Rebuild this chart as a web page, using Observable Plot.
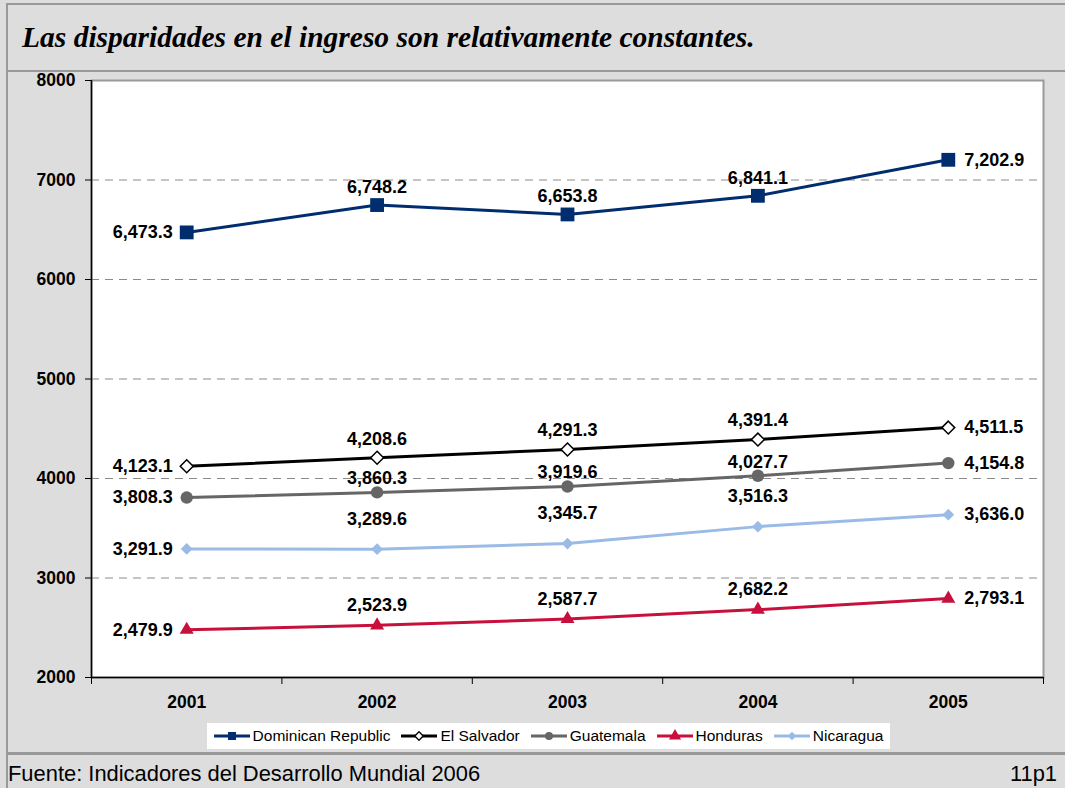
<!DOCTYPE html>
<html>
<head>
<meta charset="utf-8">
<script src="https://cdn.jsdelivr.net/npm/d3@7"></script>
<script src="https://cdn.jsdelivr.net/npm/@observablehq/plot@0.6"></script>
<style>
  html, body { margin: 0; padding: 0; background: #dddddd; }
  #wrap { position: relative; width: 1065px; height: 788px; background: #dddddd; overflow: hidden;
          font-family: "Liberation Sans", Arial, sans-serif; }
  #topline { position: absolute; left: 6px; top: 3px; width: 1059px; height: 2px; background: #999; }
  #leftline { position: absolute; left: 6px; top: 3px; width: 2px; height: 785px; background: #999; }
  #titleline { position: absolute; left: 6px; top: 70px; width: 1059px; height: 2px; background: #999; }
  #footline { position: absolute; left: 6px; top: 752px; width: 1059px; height: 3px; background: #999; }
  #title { position: absolute; left: 22px; top: 21px; font-family: "Liberation Serif", "Times New Roman", serif;
           font-style: italic; font-weight: bold; font-size: 29.5px; color: #000; white-space: nowrap; }
  #chart { position: absolute; left: 0; top: 0; }
  #legend { position: absolute; left: 207px; top: 723px; width: 683px; height: 26px; background: #fff;
            display: flex; align-items: center; justify-content: center; gap: 11px; font-size: 15.5px; color: #000; }
  .item { display: flex; align-items: center; white-space: nowrap; }
  #source { position: absolute; left: 8px; top: 761px; font-size: 21.9px; color: #000; white-space: nowrap; }
  #page { position: absolute; right: 8px; top: 761px; font-size: 21.9px; color: #000; }
</style>
</head>
<body>
<div id="wrap">
  <div id="topline"></div>
  <div id="leftline"></div>
  <div id="titleline"></div>
  <div id="footline"></div>
  <div id="title">Las disparidades en el ingreso son relativamente constantes.</div>
  <div id="chart"></div>
  <div id="legend"></div>
  <div id="source">Fuente: Indicadores del Desarrollo Mundial 2006</div>
  <div id="page">11p1</div>
</div>
<script>
// ---- data ----
const years = [2001, 2002, 2003, 2004, 2005];
const seriesNames = ["Dominican Republic", "El Salvador", "Guatemala", "Honduras", "Nicaragua"];
const dominicanRepublic = [6473.3, 6748.2, 6653.8, 6841.1, 7202.9];
const elSalvador = [4123.1, 4208.6, 4291.3, 4391.4, 4511.5];
const guatemala = [3808.3, 3860.3, 3919.6, 4027.7, 4154.8];
const honduras = [2479.9, 2523.9, 2587.7, 2682.2, 2793.1];
const nicaragua = [3291.9, 3289.6, 3345.7, 3516.3, 3636.0];
const yTicks = [2000, 3000, 4000, 5000, 6000, 7000, 8000];

// ---- styles ----
const styles = {
  "Dominican Republic": {color: "#002d6e", symbol: "square", fill: "#002d6e", r: 7.8, dy: -18, lr: 4.5},
  "El Salvador": {color: "#000000", symbol: "diamond2", fill: "#ffffff", r: 5.8, dy: -19, lr: 3.8},
  "Guatemala": {color: "#666666", symbol: "circle", fill: "#666666", r: 6.2, dy: -14, lr: 4},
  "Honduras": {color: "#c8103c", symbol: "triangle", fill: "#c8103c", r: 5.2, dy: -20, lr: 4.5},
  "Nicaragua": {color: "#99bbe6", symbol: "diamond2", fill: "#99bbe6", r: 5.3, dy: -30, lr: 3.8}
};

const valuesBySeries = [dominicanRepublic, elSalvador, guatemala, honduras, nicaragua];
const rows = [];
seriesNames.forEach((s, i) => {
  years.forEach((y, j) => rows.push({series: s, year: y, value: valuesBySeries[i][j], idx: j}));
});

const fmt = d3.format(",.1f");
const boundaries = [years[0] - 0.5, ...years.map(y => y + 0.5)];

const marks = [
  Plot.frame({fill: "white", stroke: "#9a9a9a", strokeWidth: 2}),
  Plot.ruleY(yTicks.slice(1, -1), {stroke: "#8a8a8a", strokeDasharray: "8,6", strokeWidth: 1}),
  Plot.axisY({ticks: yTicks, tickSize: 6, tickPadding: 10, fontSize: 17.5, fontWeight: "bold",
              tickFormat: d => String(d), label: null, stroke: "#000"}),
  Plot.axisX({ticks: years, tickSize: 0, tickPadding: 18, fontSize: 17.5, fontWeight: "bold",
              tickFormat: d => String(d), label: null}),
  Plot.axisX({ticks: boundaries, tickSize: 7, tickFormat: () => "", label: null, stroke: "#000"}),
  Plot.ruleX([boundaries[0]], {stroke: "#000", strokeWidth: 1.5}),
  Plot.ruleY([yTicks[0]], {stroke: "#000", strokeWidth: 1.5})
];

seriesNames.forEach(s => {
  const st = styles[s];
  const data = rows.filter(d => d.series === s);
  marks.push(Plot.line(data, {x: "year", y: "value", stroke: st.color, strokeWidth: 3}));
  marks.push(Plot.dot(data, {x: "year", y: "value", symbol: () => st.symbol, r: st.r,
    fill: st.fill, stroke: s === "El Salvador" ? "#000" : "none", strokeWidth: 1.5}));
  const txt = {x: "year", y: "value", text: d => fmt(d.value), fontSize: 18, fontWeight: "bold", fill: "#000"};
  marks.push(Plot.text(data.filter(d => d.idx === 0), {...txt, textAnchor: "end", dx: -14}));
  marks.push(Plot.text(data.filter(d => d.idx > 0 && d.idx < years.length - 1), {...txt, dy: st.dy}));
  marks.push(Plot.text(data.filter(d => d.idx === years.length - 1), {...txt, textAnchor: "start", dx: 16}));
});

const chart = Plot.plot({
  width: 1065,
  height: 788,
  marginLeft: 91,
  marginRight: 22,
  marginTop: 80,
  marginBottom: 111,
  style: {background: "transparent", fontFamily: "'Liberation Sans', Arial, sans-serif", overflow: "visible"},
  x: {type: "linear", domain: [boundaries[0], boundaries[boundaries.length - 1]]},
  y: {domain: [yTicks[0], yTicks[yTicks.length - 1]]},
  marks
});
document.getElementById("chart").appendChild(chart);

// ---- legend ----
const legend = document.getElementById("legend");
seriesNames.forEach(s => {
  const st = styles[s];
  const item = document.createElement("div");
  item.className = "item";
  const svg = d3.create("svg").attr("width", 37).attr("height", 14);
  svg.append("line").attr("x1", 0).attr("x2", 36).attr("y1", 7).attr("y2", 7)
     .attr("stroke", st.color).attr("stroke-width", 3);
  const sym = {square: d3.symbolSquare, circle: d3.symbolCircle, triangle: d3.symbolTriangle, diamond2: d3.symbolDiamond2}[st.symbol];
  svg.append("path").attr("transform", "translate(18,7)")
     .attr("d", d3.symbol(sym, Math.PI * st.lr * st.lr)())
     .attr("fill", st.fill).attr("stroke", s === "El Salvador" ? "#000" : "none").attr("stroke-width", 1.3);
  item.appendChild(svg.node());
  const t = document.createElement("span");
  t.textContent = s;
  t.style.marginLeft = "2px";
  item.appendChild(t);
  legend.appendChild(item);
});
</script>
</body>
</html>
